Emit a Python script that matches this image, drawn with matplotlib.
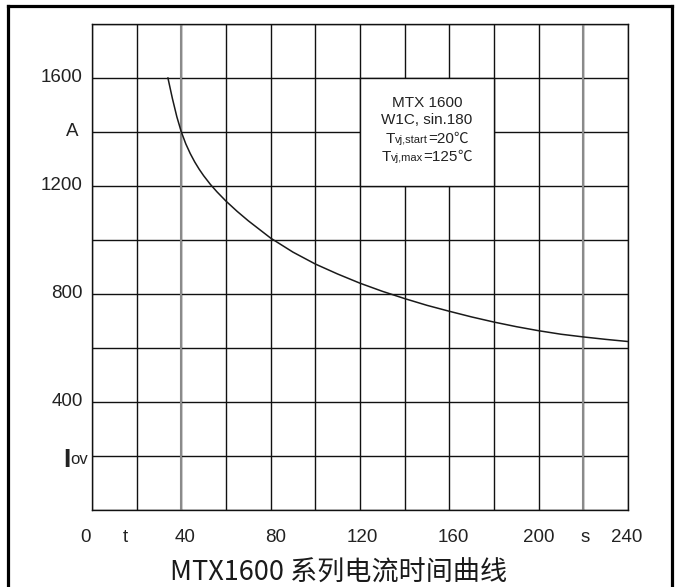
import matplotlib
matplotlib.use("Agg")
import matplotlib.pyplot as plt
from matplotlib.patches import Rectangle
from matplotlib.lines import Line2D
import matplotlib.transforms as mtransforms
from matplotlib.offsetbox import TextArea, HPacker, AnnotationBbox

plt.rcParams['font.family'] = ['Liberation Sans', 'Noto Sans CJK SC', 'DejaVu Sans']

# ---- data ----
time_s = [34, 36, 38, 40, 42, 44, 46, 48, 50, 53, 56, 60, 65, 70, 75, 80,
          90, 100, 110, 120, 130, 140, 150, 160, 170, 180, 190, 200, 210,
          220, 230, 240]
current_a = [1600, 1524, 1456, 1400, 1356, 1320, 1289, 1262, 1238, 1206,
             1178, 1144, 1106, 1071, 1039, 1007, 955, 911, 874, 840, 810,
             783, 758, 736, 715, 696, 679, 664, 651, 641, 632, 624]

x_grid = list(range(0, 241, 20))
y_grid = list(range(0, 1801, 200))

x_label_pos = [-2.7, 14.8, 41.6, 82, 121, 162, 200, 221, 239.5]
x_label_txt = ['0', 't', '40', '80', '120', '160', '200', 's', '240']

y_label_pos = [1600, 1400, 1200, 800, 400]
y_label_txt = ['1600', 'A', '1200', '800', '400']

box_lines = [
    [('MTX 1600', 11)],
    [('W1C, sin.180', 11)],
    [('T', 11), ('vj,start', 8), ('=20', 11), ('℃', 10.5)],
    [('T', 11), ('vj,max', 8), ('=125', 11), ('℃', 10.5)],
]
box_y = [1507, 1444, 1374, 1307]
title_txt = 'MTX1600 系列电流时间曲线'

# ---- figure ----
W, H = 675, 587
fig = plt.figure(figsize=(W / 100, H / 100), dpi=100)
ax = fig.add_axes([92 / W, 1 - 510 / H, (628 - 92) / W, (510 - 24) / H])
ax.set_xlim(0, 240)
ax.set_ylim(0, 1800)

ax.set_xticks(x_grid)
ax.set_yticks(y_grid)
ax.set_xticklabels([])
ax.set_yticklabels([])
ax.tick_params(length=0)
ax.set_axisbelow(True)
ax.grid(True, color='#111111', lw=1.0)
for sp in ax.spines.values():
    sp.set_color('#111111')
    sp.set_linewidth(1.0)
for gx in (40, 220):
    ax.axvline(gx, color='#8a8a8a', lw=1.5, zorder=0.6)

# white info box
ax.add_patch(Rectangle((120, 1200), 60, 400, facecolor='white',
                       edgecolor='#111111', lw=1.0, zorder=1.5))
for yy, parts in zip(box_y, box_lines):
    children = [TextArea(s, textprops=dict(fontsize=fs, color='#222222'))
                for s, fs in parts]
    pk = HPacker(children=children, align='baseline', pad=0, sep=0)
    ab = AnnotationBbox(pk, (150, yy), xycoords='data', frameon=False,
                        box_alignment=(0.5, 0.5), pad=0, zorder=4)
    ax.add_artist(ab)

# curve
ax.plot(time_s, current_a, color='#1a1a1a', lw=1.1, zorder=3)

# x labels
trans_x = mtransforms.blended_transform_factory(ax.transData, ax.transAxes)
for xp, t in zip(x_label_pos, x_label_txt):
    ax.text(xp, -27 / 486, t, transform=trans_x, ha='center',
            va='center', fontsize=13.5, color='#222222', clip_on=False)

# y labels
trans_y = mtransforms.blended_transform_factory(ax.transAxes, ax.transData)
for yp, t in zip(y_label_pos, y_label_txt):
    if t == 'A':
        ax.text(-20 / 536, yp, t, transform=trans_y, ha='center', va='center',
                fontsize=13.5, color='#222222', clip_on=False)
    else:
        ax.text(-9 / 536, yp, t, transform=trans_y, ha='right', va='center',
                fontsize=13.5, color='#222222', clip_on=False)
# I_ov label
ax.text(-29 / 536, 200 - 15, 'I', transform=trans_y, ha='left', va='center',
        fontsize=19, fontweight='bold', color='#222222', clip_on=False)
ax.text(-22 / 536, 200 - 40, 'ov', transform=trans_y, ha='left', va='bottom',
        fontsize=12, color='#222222', clip_on=False)

# title
fig.text(339 / W, 1 - 573 / H, title_txt, ha='center', va='center',
         fontsize=19.5, family=['Noto Sans CJK SC', 'DejaVu Sans'],
         color='#1a1a1a')

# outer frame
fr = dict(color='black', lw=2.3, transform=fig.transFigure)
fig.add_artist(Line2D([8 / W, 8 / W], [0, 1 - 6 / H], **fr))
fig.add_artist(Line2D([8 / W, 671.5 / W], [1 - 6 / H, 1 - 6 / H], **fr))
fig.add_artist(Line2D([671.5 / W, 671.5 / W], [0, 1 - 6 / H], **fr))

fig.savefig('out.png', dpi=100)
